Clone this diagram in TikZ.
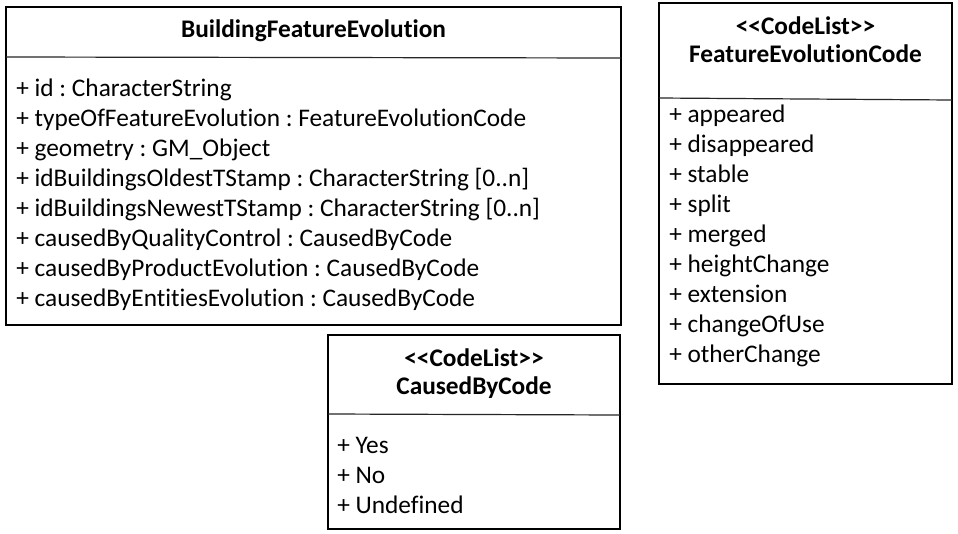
\documentclass[tikz,border=0pt]{standalone}
\usepackage{fontspec}
\setmainfont{Carlito}[Ligatures={TeX,NoCommon}]
\frenchspacing
\begin{document}
\begin{tikzpicture}[x=0.75pt,y=-0.75pt,
  box/.style={draw=black,line width=0.9pt},
  sep/.style={draw=black!85,line width=0.9pt},
  attr/.style={anchor=base west,inner sep=0pt,font=\fontsize{19}{22}\selectfont},
  ttl/.style={anchor=base,inner sep=0pt,font=\bfseries\fontsize{19}{22}\selectfont}]
\useasboundingbox[fill=white] (0,0) rectangle (958,533);
% BuildingFeatureEvolution
\draw[box] (6,7) rectangle (621,325);
\draw[sep] (6,57) -- (621,58);
\node[ttl] (t1) at (313.5,37) {BuildingFeatureEvolution};
\node[attr] (a1) at (16,96) {+ id : CharacterString};
\node[attr] (a2) at (16,126) {+ typeOfFeatureEvolution : FeatureEvolutionCode};
\node[attr] (a3) at (16,156) {+ geometry : GM\_Object};
\node[attr] (a4) at (16,186) {+ idBuildingsOldestTStamp : CharacterString [0..n]};
\node[attr] (a5) at (16,216) {+ idBuildingsNewestTStamp : CharacterString [0..n]};
\node[attr] (a6) at (16,246) {+ causedByQualityControl : CausedByCode};
\node[attr] (a7) at (16,276) {+ causedByProductEvolution : CausedByCode};
\node[attr] (a8) at (16,306) {+ causedByEntitiesEvolution : CausedByCode};
% FeatureEvolutionCode
\draw[box] (659,3) rectangle (952,384);
\draw[sep] (659,98) -- (952,100);
\node[ttl] (t2a) at (805.5,34) {<\kern0pt<CodeList>\kern0pt>};
\node[ttl] (t2b) at (805.5,62) {FeatureEvolutionCode};
\node[attr] (b1) at (669,122) {+ appeared};
\node[attr] (b2) at (669,152) {+ disappeared};
\node[attr] (b3) at (669,182) {+ stable};
\node[attr] (b4) at (669,212) {+ split};
\node[attr] (b5) at (669,242) {+ merged};
\node[attr] (b6) at (669,272) {+ heightChange};
\node[attr] (b7) at (669,302) {+ extension};
\node[attr] (b8) at (669,332) {+ changeOfUse};
\node[attr] (b9) at (669,362) {+ otherChange};
% CausedByCode
\draw[box] (328,335) rectangle (620,529);
\draw[sep] (328,414) -- (620,415);
\node[ttl] (t3a) at (474,366) {<\kern0pt<CodeList>\kern0pt>};
\node[ttl] (t3b) at (474,394) {CausedByCode};
\node[attr] (c1) at (337,453) {+ Yes};
\node[attr] (c2) at (337,483) {+ No};
\node[attr] (c3) at (337,513) {+ Undefined};
\end{tikzpicture}
\end{document}
